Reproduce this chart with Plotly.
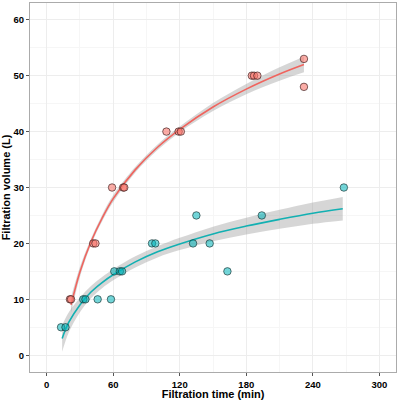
import plotly.graph_objects as go

# observed points
red_x = [21, 22, 42, 44, 59, 69, 70, 108, 119, 121, 185, 187, 190, 232, 232]
red_y = [10, 10, 20, 20, 30, 30, 30, 40, 40, 40, 50, 50, 50, 53, 48]
teal_x = [13, 17, 33, 35, 46, 58, 61, 66, 68, 95, 98, 132, 135, 147, 163, 194, 268]
teal_y = [5, 5, 10, 10, 10, 10, 15, 15, 15, 20, 20, 20, 25, 20, 15, 25, 30]

# fitted curves with confidence band
red_fit_x = [22, 30, 40, 50, 60, 80, 100, 120, 150, 180, 210, 232]
red_fit_y = [9.0, 14.9, 20.3, 24.5, 28.0, 33.2, 37.2, 40.4, 44.4, 47.6, 50.3, 52.0]
red_lo = [7.6, 14.0, 19.7, 23.9, 27.4, 32.7, 36.7, 39.9, 43.7, 46.7, 49.1, 50.6]
red_hi = [10.4, 15.8, 20.9, 25.1, 28.6, 33.7, 37.7, 40.9, 45.1, 48.5, 51.5, 53.4]

teal_fit_x = [14, 20, 30, 40, 50, 60, 80, 100, 120, 150, 180, 210, 240, 267]
teal_fit_y = [3.0, 5.9, 9.0, 11.3, 13.0, 14.4, 16.7, 18.5, 19.9, 21.7, 23.1, 24.3, 25.4, 26.2]
teal_lo = [0.6, 4.1, 7.7, 10.2, 12.0, 13.4, 15.7, 17.5, 18.8, 20.4, 21.6, 22.6, 23.5, 24.1]
teal_hi = [5.4, 7.7, 10.3, 12.4, 14.0, 15.4, 17.7, 19.5, 21.0, 23.0, 24.6, 26.0, 27.3, 28.3]

x_ticks = [0, 60, 120, 180, 240, 300]
y_ticks = [0, 10, 20, 30, 40, 50, 60]

FONT = 'Liberation Sans, Arial'

fig = go.Figure()

band = 'rgba(153,153,153,0.4)'
for fx, lo, hi in [(red_fit_x, red_lo, red_hi), (teal_fit_x, teal_lo, teal_hi)]:
    fig.add_trace(go.Scatter(x=fx, y=hi, mode='lines', line=dict(width=0, shape='spline'),
                             showlegend=False, hoverinfo='skip'))
    fig.add_trace(go.Scatter(x=fx, y=lo, mode='lines', line=dict(width=0, shape='spline'),
                             fill='tonexty', fillcolor=band, showlegend=False, hoverinfo='skip'))

fig.add_trace(go.Scatter(x=red_fit_x, y=red_fit_y, mode='lines',
                         line=dict(color='#F0645E', width=1.6, shape='spline'), showlegend=False))
fig.add_trace(go.Scatter(x=teal_fit_x, y=teal_fit_y, mode='lines',
                         line=dict(color='#12B0B2', width=1.6, shape='spline'), showlegend=False))

fig.add_trace(go.Scatter(x=red_x, y=red_y, mode='markers',
                         marker=dict(color='rgba(248,118,109,0.6)', size=7.5,
                                     line=dict(color='rgba(50,20,20,0.8)', width=0.8)),
                         showlegend=False))
fig.add_trace(go.Scatter(x=teal_x, y=teal_y, mode='markers',
                         marker=dict(color='rgba(0,180,185,0.55)', size=7.5,
                                     line=dict(color='rgba(20,45,45,0.8)', width=0.8)),
                         showlegend=False))

axis_common = dict(
    automargin=False,
    showgrid=True, gridcolor='#EDEDED', gridwidth=1,
    zeroline=False, showline=True, linecolor='#ABABAB', linewidth=1.2, mirror=True,
    ticks='outside', ticklen=3, tickcolor='#555555',
    tickfont=dict(family=FONT, size=9.5, color='black', weight='bold'),
)
minor_common = dict(showgrid=True, gridcolor='#F6F6F6', gridwidth=0.5, ticks='')

fig.update_layout(
    width=400, height=400,
    template='simple_white',
    margin=dict(l=30, r=4, t=3, b=28),
    paper_bgcolor='white', plot_bgcolor='white',
    xaxis=dict(axis_common, range=[-15, 315], tickvals=x_ticks,
               minor=dict(minor_common, tickvals=[30, 90, 150, 210, 270]),
               title=dict(text='Filtration time (min)', standoff=1,
                          font=dict(family=FONT, size=11, color='black', weight='bold'))),
    yaxis=dict(axis_common, range=[-3, 63], tickvals=y_ticks,
               minor=dict(minor_common, tickvals=[5, 15, 25, 35, 45, 55]),
               title=dict(text='Filtration volume (L)', standoff=4,
                          font=dict(family=FONT, size=11, color='black', weight='bold'))),
)

# drop the browser's default 8px body margin so the figure sits at the corner
fig.write_html("out.html", config={'displayModeBar': False},
               post_script="document.body.style.margin='0px';")
